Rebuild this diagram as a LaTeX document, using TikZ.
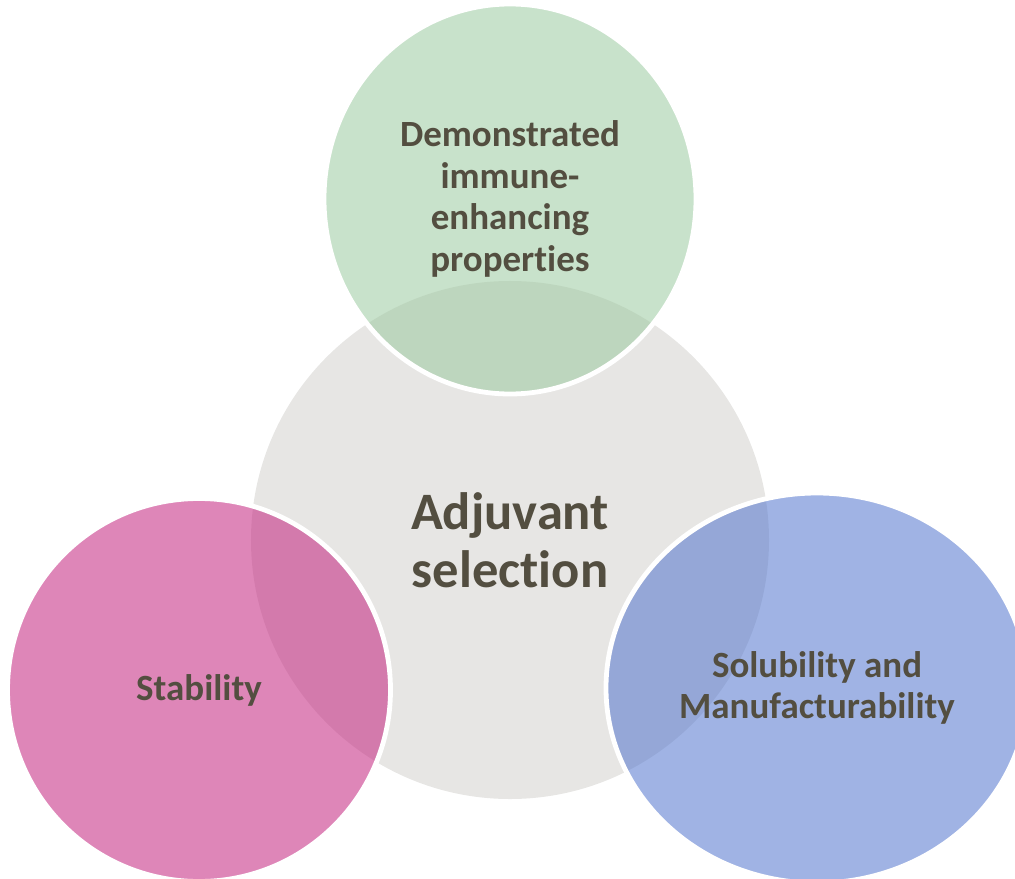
\documentclass[tikz,border=0pt]{standalone}
\usepackage{fontspec}
\setmainfont{Carlito}[Ligatures=NoCommon]
\usetikzlibrary{shapes.geometric}
\definecolor{txtgray}{RGB}{83,78,64}
\definecolor{hubgray}{RGB}{231,230,228}
\definecolor{leafgreen}{RGB}{155,202,160}
\definecolor{leafpink}{RGB}{195,35,126}
\definecolor{leafblue}{RGB}{82,117,206}

\begin{document}
\begin{tikzpicture}[x=0.25mm, y=-0.25mm,
    hub/.style={circle, fill=hubgray, inner sep=0pt, minimum size=129.5mm,
      text=txtgray, align=center, font=\fontsize{37.4}{41.3}\selectfont\bfseries},
    leaf/.style={ellipse, draw=white, line width=1.2mm, fill opacity=0.55,
      text opacity=1, inner sep=0pt, text=txtgray, align=center,
      font=\fontsize{26.3}{29.7}\selectfont\bfseries}]
  \useasboundingbox (0,0) rectangle (1015,879);
  % centre
  \node[hub] (hub) at (510,540) {Adjuvant\\selection};
  % satellites
  \node[leaf, fill=leafgreen, minimum width=93mm, minimum height=97.5mm] (immune) at (510,199)
    {Demonstrated\\immune-\\enhancing\\properties};
  \node[leaf, fill=leafpink, minimum width=95.75mm, minimum height=95.75mm] (stability) at (199,690)
    {Stability};
  \node[leaf, fill=leafblue, minimum width=105.5mm, minimum height=97.5mm] (solubility) at (817,688)
    {Solubility and\\Manufacturability};
\end{tikzpicture}
\end{document}
